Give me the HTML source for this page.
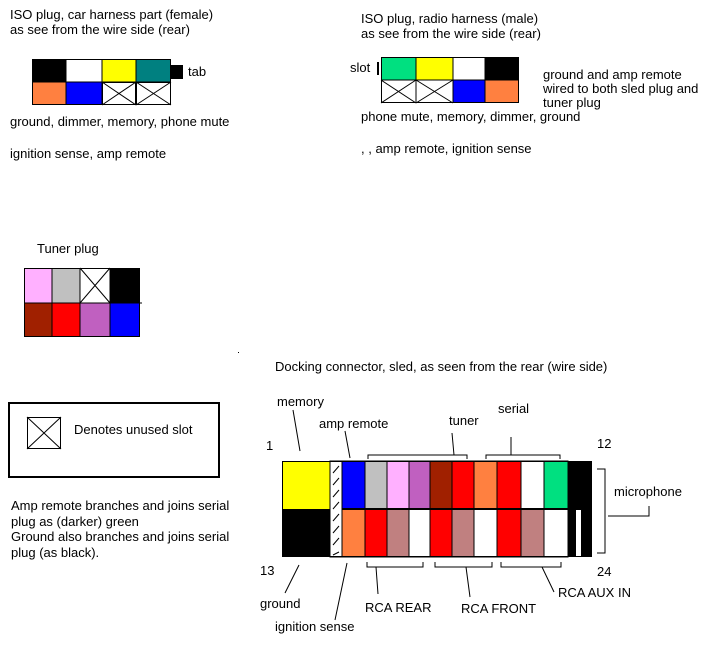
<!DOCTYPE html>
<html><head><meta charset="utf-8"><style>
html,body{margin:0;padding:0;background:#fff;}
svg{display:block;}
text{font-family:"Liberation Sans",sans-serif;font-size:13px;fill:#000;}
</style></head><body>
<svg id="s" width="726" height="645" viewBox="0 0 726 645" xmlns="http://www.w3.org/2000/svg">
<g>
<text x="10" y="19">ISO plug, car harness part (female)</text>
<text x="10" y="34">as see from the wire side (rear)</text>
<rect x="32" y="59" width="34" height="23" fill="#000"/>
<rect x="66" y="59" width="36" height="23" fill="#fff"/>
<rect x="102" y="59" width="34" height="23" fill="#ffff00"/>
<rect x="136" y="59" width="35" height="23" fill="#008080"/>
<rect x="32" y="82" width="34" height="23" fill="#ff8040"/>
<rect x="66" y="82" width="36" height="23" fill="#0000ff"/>
<g stroke="#000" stroke-width="1" fill="none">
<rect x="102.5" y="82.5" width="33" height="22"/><path d="M102 82L136 105M136 82L102 105"/>
<rect x="136.5" y="82.5" width="34" height="22"/><path d="M136 82L171 105M171 82L136 105"/>
<rect x="32.5" y="59.5" width="138" height="45"/>
<path d="M66 59V105M102 59V105M136 59V105M32 82H171"/>
</g>
<rect x="171" y="65" width="12" height="14" fill="#000"/>
<text x="188" y="76">tab</text>
<text x="10" y="126">ground, dimmer, memory, phone mute</text>
<text x="10" y="158">ignition sense, amp remote</text>
</g>
<g>
<text x="361" y="23">ISO plug, radio harness (male)</text>
<text x="361" y="38">as see from the wire side (rear)</text>
<text x="350" y="72">slot</text>
<rect x="377" y="62" width="2" height="13" fill="#000"/>
<rect x="381" y="57" width="35" height="23" fill="#00e080"/>
<rect x="416" y="57" width="37" height="23" fill="#ffff00"/>
<rect x="453" y="57" width="32" height="23" fill="#fff"/>
<rect x="485" y="57" width="34" height="23" fill="#000"/>
<rect x="453" y="80" width="32" height="23" fill="#0000ff"/>
<rect x="485" y="80" width="34" height="23" fill="#ff8040"/>
<g stroke="#000" stroke-width="1" fill="none">
<path d="M381 80L416 103M416 80L381 103M416 80L453 103M453 80L416 103"/>
<rect x="381.5" y="57.5" width="137" height="45"/>
<path d="M416 57V103M453 57V103M485 57V103M381 80H519"/>
</g>
<text x="543" y="79">ground and amp remote</text>
<text x="543" y="93">wired to both sled plug and</text>
<text x="543" y="107">tuner plug</text>
<text x="361" y="121">phone mute, memory, dimmer, ground</text>
<text x="361" y="153">, , amp remote, ignition sense</text>
</g>
<g>
<text x="37" y="253">Tuner plug</text>
<rect x="24" y="268" width="28" height="35" fill="#ffb0ff"/>
<rect x="52" y="268" width="28" height="35" fill="#c0c0c0"/>
<rect x="110" y="268" width="30" height="35" fill="#000"/>
<rect x="24" y="303" width="28" height="34" fill="#a02000"/>
<rect x="52" y="303" width="28" height="34" fill="#ff0000"/>
<rect x="80" y="303" width="30" height="34" fill="#c060c0"/>
<rect x="110" y="303" width="30" height="34" fill="#0000ff"/>
<g stroke="#000" stroke-width="1" fill="none">
<path d="M80 268L110 303M110 268L80 303"/>
<rect x="24.5" y="268.5" width="115" height="68"/>
<path d="M52 268V337M80 268V337M110 268V337M24 303H142"/>
</g>
<rect x="238" y="352" width="1" height="1" fill="#000"/>
</g>
<g>
<rect x="9" y="403" width="210" height="74" fill="none" stroke="#000" stroke-width="2"/>
<g stroke="#000" stroke-width="1" fill="none"><rect x="27.5" y="417.5" width="33" height="31"/><path d="M27 417L61 449M61 417L27 449"/></g>
<text x="74" y="434">Denotes unused slot</text>
<text x="11" y="510">Amp remote branches and joins serial</text>
<text x="11" y="526">plug as (darker) green</text>
<text x="11" y="541">Ground also branches and joins serial</text>
<text x="11" y="557">plug (as black).</text>
</g>
<g>
<text x="275" y="371">Docking connector, sled, as seen from the rear (wire side)</text>
<rect x="282" y="461" width="48" height="48" fill="#ffff00"/>
<rect x="282" y="509" width="48" height="48" fill="#000"/>
<rect x="330" y="461" width="12" height="96" fill="#fff" stroke="#000"/>
<g stroke="#000" stroke-width="1">
<path d="M333 473l6-7M333 485l6-7M333 497l6-7M333 509l6-7M333 521l6-7M333 533l6-7M333 545l6-7M333 555l6-3"/>
</g>
<g id="cells"></g>
<rect x="568" y="461" width="24" height="48" fill="#000"/>
<rect x="568" y="509" width="8" height="48" fill="#000"/>
<rect x="581" y="509" width="11" height="48" fill="#000"/>
<rect x="342" y="508" width="250" height="2" fill="#000"/>
<rect x="282.5" y="461.5" width="309" height="95" fill="none" stroke="#000"/>
<g stroke="#000" stroke-width="1" fill="none">
<path d="M293 410L300 451M345 431L350 458"/>
<path d="M368 459V455H467V459M454 455L452 433"/>
<path d="M486 459V455H560V459M511 455V437"/>
<path d="M597 469H605V553H597M608 516H649V506"/>
<path d="M299 565L285 593M347 563L335 620"/>
<path d="M367 562V567H423V562M376 567L378 594"/>
<path d="M435 562V567H492V562M466 567L470 597"/>
<path d="M501 562V567H561V562M542 567L554 592"/>
</g>
<text x="277" y="406">memory</text>
<text x="319" y="428">amp remote</text>
<text x="449" y="425">tuner</text>
<text x="498" y="413">serial</text>
<text x="266" y="450">1</text>
<text x="597" y="448">12</text>
<text x="614" y="496">microphone</text>
<text x="260" y="575">13</text>
<text x="597" y="576">24</text>
<text x="260" y="608">ground</text>
<text x="275" y="631">ignition sense</text>
<text x="365" y="612">RCA REAR</text>
<text x="461" y="613">RCA FRONT</text>
<text x="558" y="597">RCA AUX IN</text>
</g>
</svg>
<script>
const colEdges=[342,365,387,409,430,452,474,497,521,544,568];
const topColors=["#0000ff","#c0c0c0","#ffb0ff","#c060c0","#a02000","#ff0000","#ff8040","#ff0000","#fff","#00e080"];
const bottomColors=["#ff8040","#ff0000","#c08080","#fff","#ff0000","#c08080","#fff","#ff0000","#c08080","#fff"];
const g=document.getElementById('cells');
const NS="http://www.w3.org/2000/svg";
function cell(x,y,w,h,c,name){
 const r=document.createElementNS(NS,'rect');
 r.setAttribute('x',x);r.setAttribute('y',y);r.setAttribute('width',w);r.setAttribute('height',h);
 r.setAttribute('fill',c);r.setAttribute('stroke','#000');r.setAttribute('stroke-width','1');
 
 
 g.appendChild(r);
}
for(let i=0;i<topColors.length;i++){
 cell(colEdges[i],461,colEdges[i+1]-colEdges[i],48,topColors[i],'pin-top-'+(i+3));
 cell(colEdges[i],509,colEdges[i+1]-colEdges[i],48,bottomColors[i],'pin-bottom-'+(i+15));
}
</script>
</body></html>
